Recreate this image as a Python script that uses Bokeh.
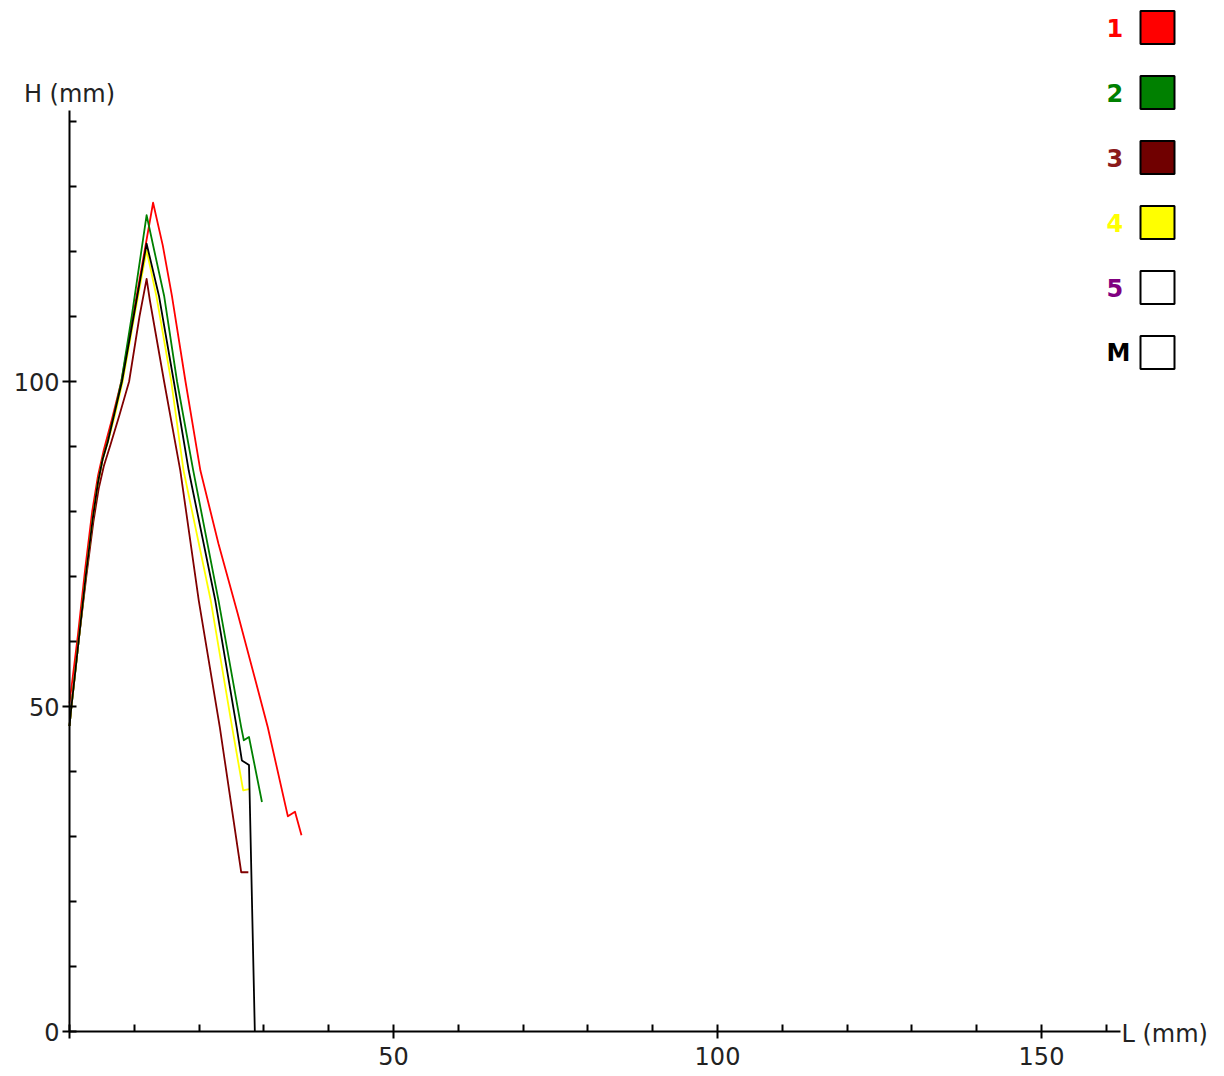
from bokeh.plotting import figure
from bokeh.models import Range1d, FixedTicker, Label, LinearAxis
from bokeh.embed import file_html
from bokeh.resources import INLINE

# ---- data: L (mm) / H (mm) for each specimen curve ----
s1_L = [0.0, 1.3, 2.4, 3.5, 4.4, 5.3, 6.5, 8.0, 9.8, 11.4, 12.9, 14.4, 15.8, 17.9, 20.2, 23.0, 25.9, 28.7, 30.6, 33.7, 34.8, 35.8]
s1_H = [50.5, 61.0, 71.0, 80.0, 85.5, 89.5, 94.0, 100.0, 110.0, 119.0, 127.5, 120.9, 113.2, 100.0, 86.3, 75.0, 64.5, 54.0, 46.8, 33.1, 33.8, 30.2]

s2_L = [0.0, 0.3, 1.4, 2.5, 3.6, 4.4, 5.1, 5.9, 6.9, 8.0, 9.6, 11.9, 13.0, 14.6, 16.6, 19.1, 23.0, 26.5, 26.9, 27.7, 29.7]
s2_H = [47.0, 50.0, 60.0, 70.0, 79.0, 84.5, 88.0, 90.8, 95.0, 100.0, 110.0, 125.6, 120.5, 113.2, 100.0, 86.3, 66.3, 46.8, 44.8, 45.3, 35.3]

s3_L = [0.0, 0.3, 1.4, 2.6, 3.7, 4.5, 5.3, 6.3, 7.7, 9.2, 10.8, 11.9, 12.4, 14.6, 17.1, 19.95, 23.2, 26.5, 27.6]
s3_H = [47.0, 50.0, 60.0, 70.0, 78.5, 83.5, 87.0, 90.2, 94.8, 100.0, 110.0, 115.8, 112.5, 100.0, 86.3, 66.3, 46.8, 24.5, 24.5]

s4_L = [0.0, 0.3, 1.4, 2.5, 3.6, 4.4, 5.1, 5.9, 7.0, 8.2, 10.0, 11.9, 13.4, 15.7, 17.6, 21.8, 25.1, 26.8, 27.7]
s4_H = [47.0, 50.0, 60.0, 70.0, 79.0, 84.5, 88.0, 90.6, 94.8, 100.0, 110.0, 120.2, 113.2, 100.0, 86.3, 66.3, 46.8, 37.1, 37.3]

sm_L = [0.0, 0.3, 1.4, 2.5, 3.6, 4.4, 5.1, 5.9, 6.9, 8.1, 9.9, 11.9, 13.8, 16.1, 18.4, 22.5, 25.8, 26.6, 27.7, 28.6]
sm_H = [47.0, 50.0, 60.0, 70.0, 79.0, 84.5, 88.0, 90.7, 94.9, 100.0, 110.0, 121.2, 113.2, 100.0, 86.3, 66.3, 46.8, 41.7, 41.0, 0.0]

legend_names = ["1", "2", "3", "4", "5", "M"]
legend_text_colors = ["#ff0000", "#008000", "#8b1a1a", "#ffff00", "#800080", "#000000"]
legend_box_colors = ["#ff0000", "#008000", "#700000", "#ffff00", "#ffffff", "#ffffff"]

x_ticks = [0, 50, 100, 150]
x_minor = [10, 20, 30, 40, 60, 70, 80, 90, 110, 120, 130, 140, 160]
y_ticks = [0, 50, 100]
y_minor = [10, 20, 30, 40, 60, 70, 80, 90, 110, 120, 130, 140]

FONT = "DejaVu Sans"
FS = "24px"

W, H = 1224, 1076
X0_PX, Y0_PX = 69, 1031          # canvas position of the origin
PX_X, PX_Y = 6.48, 6.5            # pixels per mm on each axis
X_END, Y_END = 162.2, 141.7       # extent of the drawn axis lines


def dx(px):
    return (px - X0_PX) / PX_X


def dy(py):
    return (Y0_PX - py) / PX_Y


p = figure(
    width=W, height=H,
    x_range=Range1d(dx(0), dx(W)), y_range=Range1d(dy(H), dy(0)),
    x_axis_type=None, y_axis_type=None,
    output_backend="svg", toolbar_location=None,
    min_border=0,
)
p.outline_line_color = None
p.background_fill_color = "white"
p.border_fill_color = "white"

xaxis = LinearAxis(fixed_location=0, bounds=(0, X_END))
yaxis = LinearAxis(fixed_location=0, bounds=(0, Y_END))
p.add_layout(xaxis, "below")
p.add_layout(yaxis, "left")

for ax, ticks, minor in ((xaxis, x_ticks, x_minor), (yaxis, y_ticks, y_minor)):
    ax.ticker = FixedTicker(ticks=ticks, minor_ticks=minor)
    ax.axis_line_width = 2
    ax.axis_line_color = "black"
    ax.major_tick_line_width = 2
    ax.minor_tick_line_width = 2
    ax.major_tick_line_color = "black"
    ax.minor_tick_line_color = "black"
    ax.major_tick_in = 7
    ax.major_tick_out = 7
    ax.minor_tick_in = 7
    ax.minor_tick_out = 0
    ax.major_label_text_font = FONT
    ax.major_label_text_font_size = FS
    ax.major_label_text_color = "#222222"

xaxis.major_label_overrides = {0: ""}
xaxis.major_label_standoff = 8
yaxis.major_label_standoff = 3

# curves
curves = [
    (s1_L, s1_H, "#ff0000"),
    (s2_L, s2_H, "#008000"),
    (s3_L, s3_H, "#800000"),
    (s4_L, s4_H, "#ffff00"),
    (sm_L, sm_H, "#000000"),
]
for xs, ys, c in curves:
    p.line(xs, ys, line_color=c, line_width=1.8, line_join="round")

# axis titles
p.add_layout(Label(x=0, y=dy(93), text="H (mm)", text_align="center", text_baseline="middle",
                   text_font=FONT, text_font_size=FS, text_color="#222222"))
p.add_layout(Label(x=dx(1121), y=dy(1033), text="L (mm)", text_align="left", text_baseline="middle",
                   text_font=FONT, text_font_size=FS, text_color="#222222"))

# legend: label followed by a colour swatch
box_l, box_r = dx(1140), dx(1174)
for i, (name, tc, bc) in enumerate(zip(legend_names, legend_text_colors, legend_box_colors)):
    top = 10.5 + i * 65
    bot = top + 33
    p.quad(left=box_l, right=box_r, top=dy(top), bottom=dy(bot),
           fill_color=bc, line_color="black", line_width=2)
    p.add_layout(Label(x=dx(1106), y=dy((top + bot) / 2), text=name, text_align="left",
                       text_baseline="middle", text_font=FONT, text_font_size=FS,
                       text_font_style="bold", text_color=tc))

open("out.html", "w").write(file_html(p, INLINE))
